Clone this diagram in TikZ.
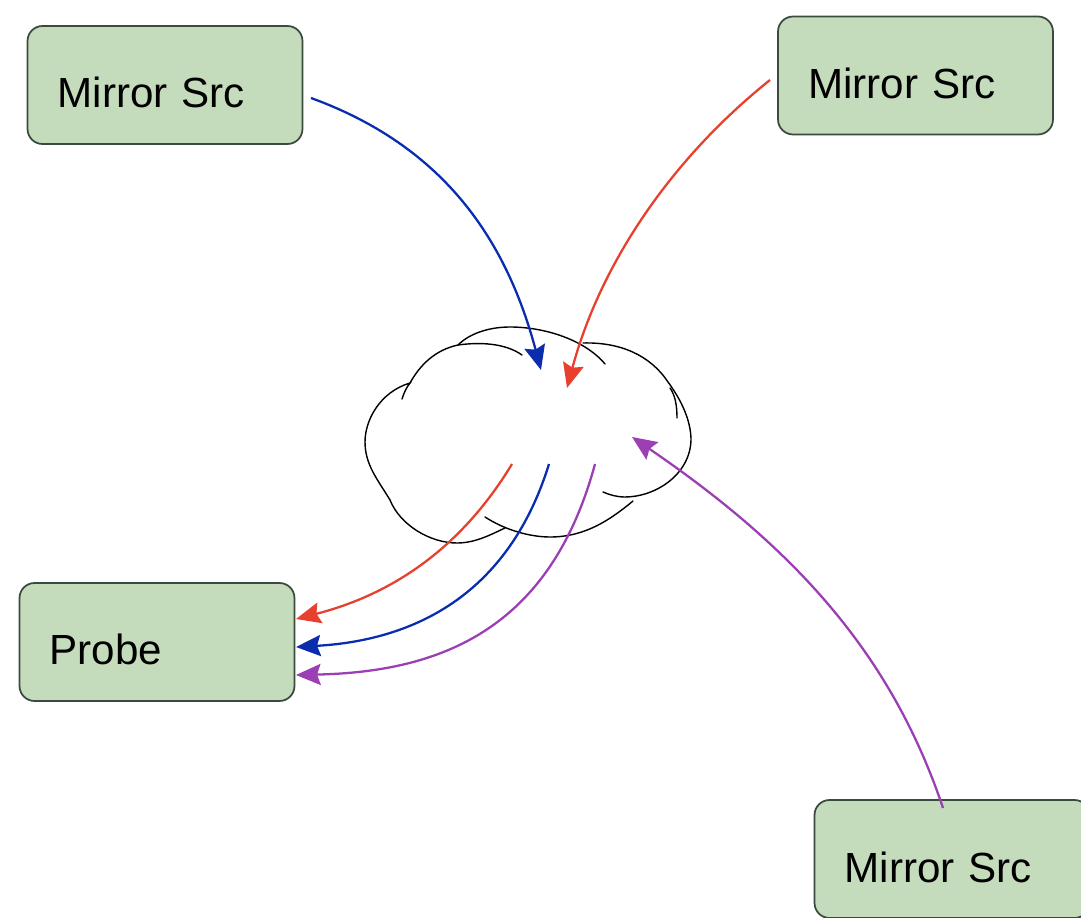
\documentclass[tikz,border=0pt]{standalone}
\usepackage{fontspec}
\setmainfont{Liberation Sans}
\usetikzlibrary{arrows.meta}
\definecolor{boxgreen}{HTML}{C5DCBC}
\definecolor{boxline}{HTML}{3A4A3C}
\definecolor{linkblue}{HTML}{0A2DB0}
\definecolor{linkred}{HTML}{E8402F}
\definecolor{linkpurple}{HTML}{9C3FB5}
\tikzset{
	hostbox/.style={rectangle,rounded corners=.3cm,fill=boxgreen,draw=boxline,line width=1pt,minimum height=2.36cm,text width=4.3cm,inner xsep=.6cm,align=left,font=\fontsize{24}{26}\selectfont},
	cloudline/.style={black,line width=.8pt,line cap=round},
	link/.style={-{Stealth[inset=2pt,width=12pt,length=14pt]},line width=1.3pt},
}

\begin{document}
\begin{tikzpicture}[x=.02cm,y=-.02cm]
		\clip (0,0) rectangle (1081,918);
		
		\node [hostbox] (srcA) at (165,85) {\raisebox{-.46cm}[0pt][0pt]{Mirror Src}};
		\node [hostbox] (srcB) at (915.5,75.5) {\raisebox{-.46cm}[0pt][0pt]{Mirror Src}};
		\node [hostbox] (srcC) at (952,859) {\raisebox{-.46cm}[0pt][0pt]{Mirror Src}};
		\node [hostbox] (probe) at (157,642) {\raisebox{-.46cm}[0pt][0pt]{Probe}};
		
		% cloud outline
		\draw [cloudline] (402,399) .. controls (404,393) and (406,388) .. (410,383) .. controls (380,392) and (365,420) .. (365,442) .. controls (365,465) and (378,480) .. (390,500) .. controls (400,525) and (430,543) .. (457,543) .. controls (475,543) and (490,535) .. (505,528);
		\draw [cloudline] (485,517) .. controls (505,530) and (530,537) .. (550,537) .. controls (585,537) and (610,520) .. (633,501);
		\draw [cloudline] (603,492) .. controls (610,495) and (617,497) .. (625,497) .. controls (655,497) and (690,475) .. (691,440) .. controls (691,425) and (685,405) .. (668,382) .. controls (650,355) and (620,342) .. (583,343);
		\draw [cloudline] (677,418) .. controls (677,405) and (675,395) .. (670,388);
		\draw [cloudline] (605,364) .. controls (585,340) and (545,327) .. (510,327) .. controls (490,327) and (470,333) .. (458,345);
		\draw [cloudline] (522,355) .. controls (505,343) and (480,342) .. (458,345) .. controls (435,350) and (420,365) .. (410,383);
		
		\coordinate (blueIn) at (311,98);
		\coordinate (blueEnd) at (541,370);
		\coordinate (redIn) at (770,80);
		\coordinate (redEnd) at (567,388);
		\coordinate (purpleIn) at (943,808);
		\coordinate (purpleEnd) at (632,437);
		\coordinate (redOut) at (512,464);
		\coordinate (blueOut) at (549,464);
		\coordinate (purpleOut) at (595,464);
		\coordinate (redPort) at (296,619);
		\coordinate (bluePort) at (296,647);
		\coordinate (purplePort) at (296,675);
		
		\draw [link,linkblue] (blueIn) .. controls (440,145) and (505,235) .. (blueEnd);
		\draw [link,linkred] (redIn) .. controls (670,160) and (600,265) .. (redEnd);
		\draw [link,linkpurple] (purpleIn) .. controls (890,650) and (790,545) .. (purpleEnd);
		\draw [link,linkred] (redOut) .. controls (460,550) and (390,595) .. (redPort);
		\draw [link,linkblue] (blueOut) .. controls (510,590) and (420,640) .. (bluePort);
		\draw [link,linkpurple] (purpleOut) .. controls (550,630) and (440,672) .. (purplePort);
		
	\end{tikzpicture}
\end{document}
